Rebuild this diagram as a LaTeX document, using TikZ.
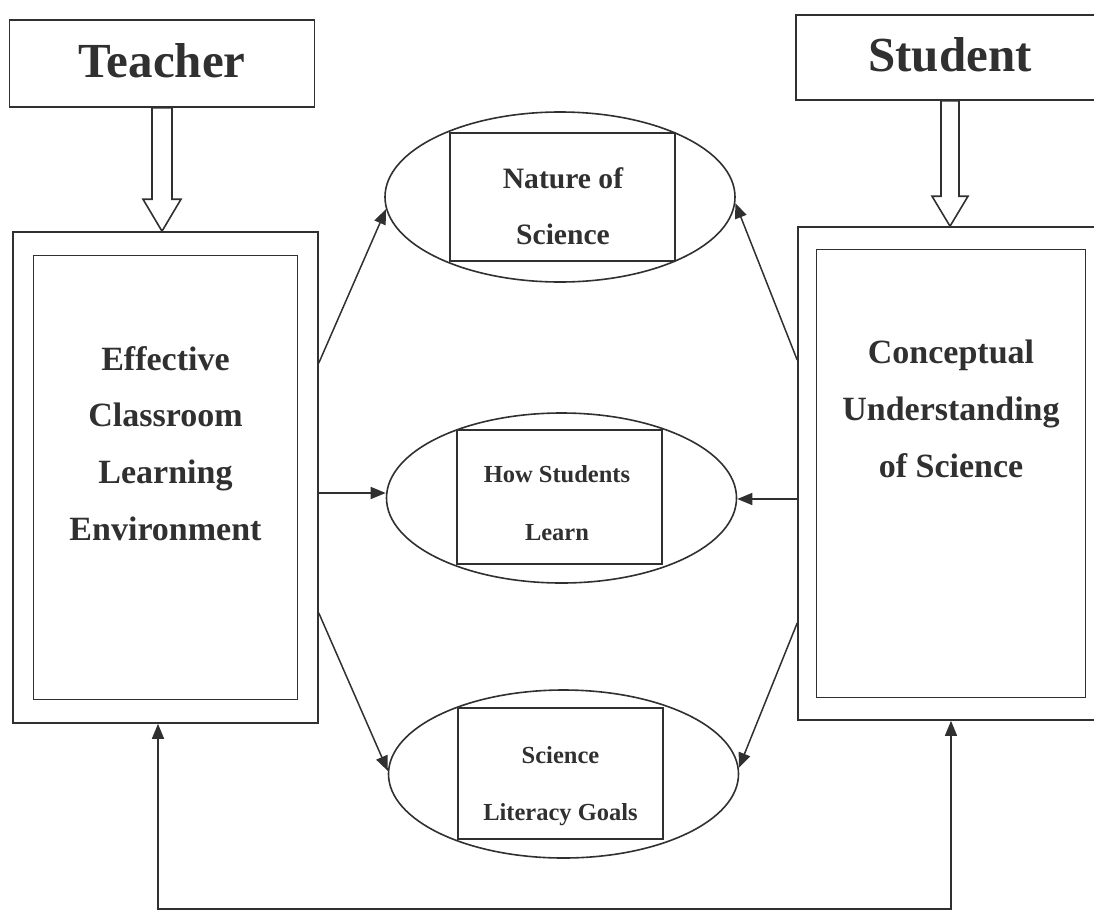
\documentclass[tikz,border=0pt]{standalone}
\usepackage{fontspec}
\setmainfont{Liberation Serif}
\usepackage{tikz}
\usetikzlibrary{positioning,shapes.geometric,arrows.meta}
\definecolor{ink}{HTML}{303030}

\begin{document}
\begin{tikzpicture}[
    x=1pt, y=-1pt,
    >={Triangle[length=15pt,width=12pt]},
    every node/.style={inner sep=0pt, font=\bfseries, text=ink, align=center},
    titlebox/.style={draw=ink, line width=1.6pt, font=\fontsize{49}{58}\selectfont\bfseries, text depth=7pt},
    outerbox/.style={draw=ink, line width=1.6pt},
    innerbox/.style={draw=ink, line width=1.6pt},
    oval/.style={draw=ink, ellipse, line width=1.6pt, minimum width=350, minimum height=170},
    ovalbox/.style={draw=ink, line width=1.6pt},
    boxtext/.style={font=\fontsize{34}{56.7}\selectfont\bfseries},
    link/.style={->, draw=ink, line width=1.5pt},
    hollow/.style={draw=ink, line width=1.6pt, line join=miter}]

    \useasboundingbox (0,0) rectangle (1094,913);

    % the two actors
    \node[titlebox, minimum width=305, minimum height=87] (teacher) at (162,63.5) {Teacher};
    \node[titlebox, minimum width=308, minimum height=85] (student) at (950,57.5) {Student};

    % left and right frames
    \node[outerbox, minimum width=305, minimum height=491] (envout) at (165.5,477.5) {};
    \node[innerbox, minimum width=264, minimum height=444] (envin) at (envout.center) {};
    \node[boxtext] (envtext) at ([yshift=34pt]envin.center) {Effective\\Classroom\\Learning\\Environment};

    \node[outerbox, minimum width=306, minimum height=493] (concout) at (951,473.5) {};
    \node[innerbox, minimum width=269, minimum height=448] (concin) at (concout.center) {};
    \node[boxtext, font=\fontsize{34}{57}\selectfont\bfseries] (conctext) at ([yshift=65pt]concin.center) {Conceptual\\Understanding\\of Science};

    % the three ovals
    \node[oval] (nature) at (560,197) {};
    \node[ovalbox, minimum width=225, minimum height=128] (naturebox) at (562.5,197) {};
    \node[font=\fontsize{29.6}{56}\selectfont\bfseries] (naturetext) at (563,205.8) {Nature of\\Science};

    \node[oval] (how) at (561.5,498) {};
    \node[ovalbox, minimum width=205, minimum height=134] (howbox) at (559.5,497) {};
    \node[font=\fontsize{24.5}{58}\selectfont\bfseries] (howtext) at (557,503.5) {How Students\\Learn};

    \node[oval, minimum height=168] (lit) at (563.5,774) {};
    \node[ovalbox, minimum width=205, minimum height=131] (litbox) at (560.5,773.5) {};
    \node[font=\fontsize{24.5}{57}\selectfont\bfseries] (littext) at (560.5,785.7) {Science\\Literacy Goals};

    % hollow arrows
    \coordinate (ttip) at (teacher.south |- envout.north);
    \draw[hollow] (ttip) -- ++(-19,-32) -- ++(9,0) -- ([xshift=-10pt]teacher.south)
        -- ([xshift=10pt]teacher.south) -- ([xshift=10pt,yshift=32pt]ttip) -- ++(9,0) -- cycle;
    \coordinate (stip) at (student.south |- concout.north);
    \draw[hollow] (stip) -- ++(-18,-30) -- ++(9,0) -- ([xshift=-9pt]student.south)
        -- ([xshift=9pt]student.south) -- ([xshift=9pt,yshift=30pt]stip) -- ++(9,0) -- cycle;

    % links to the ovals
    \draw[link] ([yshift=114.5pt]envout.east) -- (nature.184);
    \draw[link] ([yshift=-15.5pt]envout.east) -- ([yshift=-15.5pt]envout.east -| how.west);
    \draw[link] ([yshift=-135.5pt]envout.east) -- (lit.179);
    \draw[link] ([yshift=113.5pt]concout.west) -- (nature.-2);
    \draw[link] ([yshift=-25.5pt]concout.west) -- ([yshift=-25.5pt]concout.west -| how.east);
    \draw[link] ([yshift=-149.5pt]concout.west) -- (lit.2);

    % feedback loop
    \coordinate (loopmid) at (560,909);
    \draw[link, <->] ([xshift=-7.5pt]envout.south) |- (loopmid) -| (concout.south);

\end{tikzpicture}
\end{document}
